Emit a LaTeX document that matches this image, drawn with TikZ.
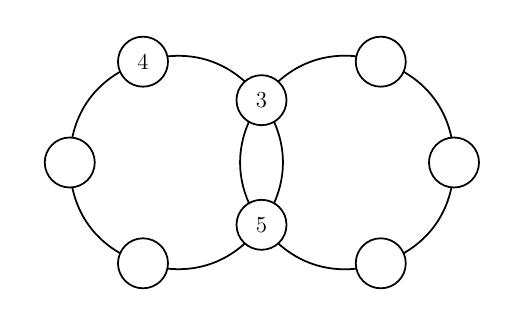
\documentclass[tikz,border=0pt]{standalone}
\usetikzlibrary{backgrounds}
\tikzset{
  vertex/.style={circle, draw, line width=1pt, fill=white, minimum size=1cm, inner sep=0pt, font=\fontsize{13}{15}\selectfont},
  ring/.style={line width=1pt, bend left=36}
}
\begin{document}
\begin{tikzpicture}
\useasboundingbox (0,0) rectangle (10.42,-6.22);
% left circle
\begin{scope}[shift={(3.515,-3.25)}]
\node[vertex] (l1) at (180:2.12) {};
\node[vertex] (l4) at (108:2.12) {4};
\node[vertex] (n3) at (36:2.12) {3};
\node[vertex] (n5) at (-36:2.12) {5};
\node[vertex] (l2) at (-108:2.12) {};
\end{scope}
% right circle
\begin{scope}[shift={(6.96,-3.25)}]
\node[vertex] (r1) at (72:2.12) {};
\node[vertex] (r2) at (0:2.12) {};
\node[vertex] (r3) at (-72:2.12) {};
\end{scope}
\begin{scope}[on background layer]
\draw[ring] (l1.center) to (l4.center);
\draw[ring] (l4.center) to (n3.center);
\draw[ring] (n3.center) to (n5.center);
\draw[ring] (n5.center) to (l2.center);
\draw[ring] (l2.center) to (l1.center);
\draw[ring] (n3.center) to (r1.center);
\draw[ring] (r1.center) to (r2.center);
\draw[ring] (r2.center) to (r3.center);
\draw[ring] (r3.center) to (n5.center);
\draw[ring] (n5.center) to (n3.center);
\end{scope}
\end{tikzpicture}
\end{document}
